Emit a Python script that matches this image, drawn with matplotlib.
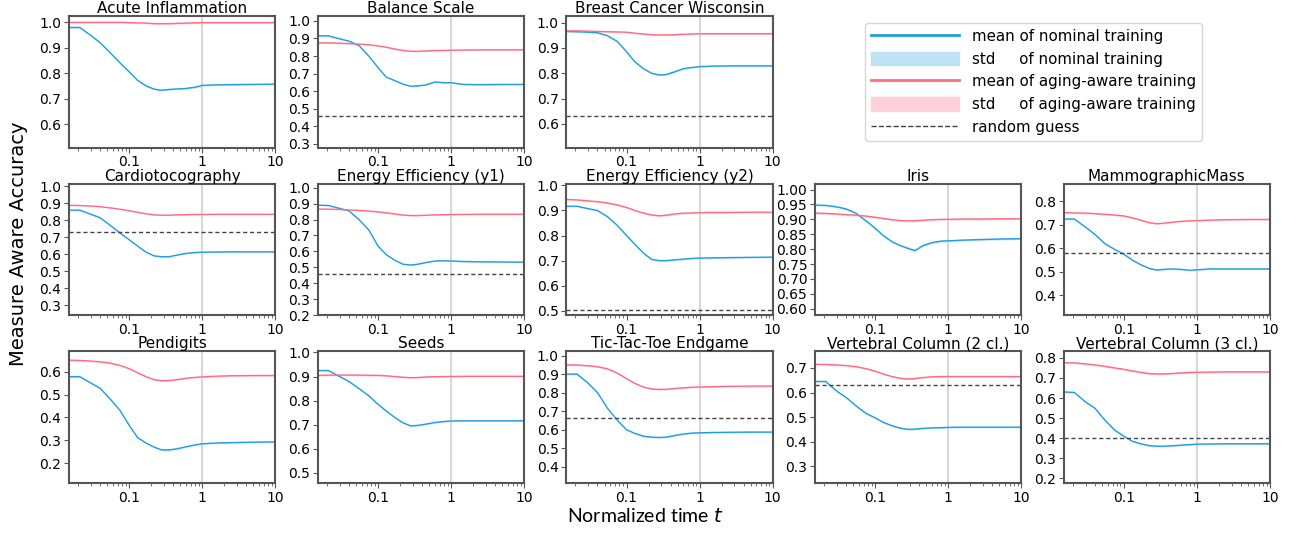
import numpy as np
import matplotlib
matplotlib.use("Agg")
import matplotlib.pyplot as plt
from matplotlib.ticker import FixedLocator, FormatStrFormatter, NullFormatter
from matplotlib.lines import Line2D
from matplotlib.patches import Patch

# normalized time grid (shared by all datasets)
T = [0.015, 0.021, 0.03, 0.04, 0.055, 0.075, 0.1, 0.13, 0.17, 0.22, 0.28, 0.35,
     0.45, 0.6, 0.8, 1.0, 1.5, 2.5, 5, 10]

names = ["Acute Inflammation", "Balance Scale", "Breast Cancer Wisconsin",
         "Cardiotocography", "Energy Efficiency (y1)", "Energy Efficiency (y2)",
         "Iris", "MammographicMass", "Pendigits", "Seeds",
         "Tic-Tac-Toe Endgame", "Vertebral Column (2 cl.)", "Vertebral Column (3 cl.)"]

nominal = [
    [0.98, 0.98, 0.948, 0.92, 0.88, 0.84, 0.805, 0.772, 0.75, 0.737, 0.733, 0.736, 0.738, 0.740, 0.745, 0.752, 0.754, 0.755, 0.756, 0.757],
    [0.915, 0.915, 0.898, 0.885, 0.86, 0.80, 0.735, 0.68, 0.66, 0.64, 0.628, 0.63, 0.635, 0.652, 0.648, 0.648, 0.638, 0.637, 0.638, 0.638],
    [0.965, 0.964, 0.962, 0.96, 0.948, 0.925, 0.885, 0.845, 0.818, 0.80, 0.793, 0.795, 0.805, 0.818, 0.823, 0.826, 0.828, 0.829, 0.829, 0.829],
    [0.86, 0.86, 0.835, 0.815, 0.77, 0.725, 0.685, 0.648, 0.612, 0.59, 0.585, 0.585, 0.595, 0.605, 0.61, 0.612, 0.613, 0.614, 0.614, 0.614],
    [0.89, 0.888, 0.87, 0.855, 0.80, 0.735, 0.635, 0.58, 0.545, 0.52, 0.515, 0.52, 0.53, 0.54, 0.542, 0.54, 0.537, 0.535, 0.534, 0.533],
    [0.917, 0.917, 0.907, 0.90, 0.875, 0.84, 0.80, 0.765, 0.73, 0.705, 0.70, 0.70, 0.703, 0.706, 0.709, 0.71, 0.711, 0.712, 0.713, 0.714],
    [0.948, 0.947, 0.942, 0.935, 0.92, 0.895, 0.87, 0.845, 0.825, 0.812, 0.803, 0.795, 0.812, 0.822, 0.827, 0.828, 0.83, 0.832, 0.834, 0.835],
    [0.725, 0.725, 0.69, 0.66, 0.62, 0.595, 0.575, 0.55, 0.53, 0.515, 0.507, 0.51, 0.512, 0.51, 0.506, 0.508, 0.512, 0.512, 0.512, 0.512],
    [0.578, 0.578, 0.55, 0.527, 0.48, 0.43, 0.365, 0.312, 0.288, 0.27, 0.258, 0.258, 0.263, 0.272, 0.28, 0.285, 0.288, 0.29, 0.292, 0.293],
    [0.925, 0.925, 0.90, 0.88, 0.85, 0.82, 0.785, 0.757, 0.73, 0.708, 0.695, 0.697, 0.702, 0.709, 0.713, 0.715, 0.716, 0.716, 0.716, 0.716],
    [0.90, 0.90, 0.85, 0.80, 0.715, 0.65, 0.60, 0.58, 0.565, 0.56, 0.558, 0.56, 0.568, 0.577, 0.582, 0.583, 0.585, 0.586, 0.587, 0.587],
    [0.645, 0.645, 0.605, 0.58, 0.545, 0.515, 0.497, 0.478, 0.465, 0.455, 0.45, 0.451, 0.454, 0.456, 0.457, 0.458, 0.459, 0.459, 0.459, 0.459],
    [0.63, 0.628, 0.58, 0.55, 0.49, 0.44, 0.41, 0.385, 0.372, 0.363, 0.36, 0.36, 0.362, 0.365, 0.368, 0.37, 0.371, 0.372, 0.372, 0.372],
]

aging = [
    [1.0, 1.0, 1.0, 1.0, 1.0, 1.0, 0.999, 0.998, 0.997, 0.995, 0.995, 0.995, 0.996, 0.997, 0.998, 0.999, 0.999, 0.999, 0.999, 0.999],
    [0.875, 0.875, 0.873, 0.871, 0.868, 0.864, 0.858, 0.85, 0.84, 0.832, 0.827, 0.827, 0.829, 0.831, 0.832, 0.833, 0.834, 0.835, 0.835, 0.835],
    [0.967, 0.967, 0.966, 0.965, 0.964, 0.963, 0.962, 0.958, 0.955, 0.952, 0.951, 0.951, 0.952, 0.954, 0.955, 0.956, 0.956, 0.956, 0.956, 0.956],
    [0.888, 0.887, 0.884, 0.88, 0.873, 0.865, 0.856, 0.847, 0.838, 0.832, 0.83, 0.83, 0.832, 0.833, 0.834, 0.834, 0.835, 0.835, 0.835, 0.835],
    [0.866, 0.865, 0.863, 0.86, 0.857, 0.853, 0.848, 0.842, 0.835, 0.828, 0.825, 0.825, 0.827, 0.829, 0.83, 0.831, 0.832, 0.833, 0.833, 0.833],
    [0.944, 0.942, 0.938, 0.935, 0.93, 0.922, 0.912, 0.90, 0.89, 0.882, 0.879, 0.881, 0.886, 0.889, 0.89, 0.891, 0.892, 0.892, 0.893, 0.893],
    [0.921, 0.92, 0.918, 0.916, 0.914, 0.911, 0.907, 0.903, 0.899, 0.896, 0.895, 0.895, 0.897, 0.899, 0.9, 0.9, 0.901, 0.901, 0.902, 0.902],
    [0.752, 0.751, 0.75, 0.748, 0.745, 0.742, 0.738, 0.73, 0.72, 0.71, 0.705, 0.707, 0.711, 0.715, 0.717, 0.718, 0.72, 0.722, 0.723, 0.723],
    [0.65, 0.649, 0.646, 0.643, 0.637, 0.627, 0.613, 0.595, 0.578, 0.565, 0.56, 0.561, 0.565, 0.571, 0.575, 0.577, 0.58, 0.582, 0.583, 0.583],
    [0.905, 0.906, 0.906, 0.906, 0.906, 0.905, 0.905, 0.903, 0.9, 0.897, 0.895, 0.896, 0.898, 0.899, 0.9, 0.9, 0.901, 0.901, 0.901, 0.901],
    [0.95, 0.949, 0.945, 0.94, 0.928, 0.905, 0.875, 0.85, 0.83, 0.82, 0.817, 0.818, 0.822, 0.826, 0.829, 0.83, 0.832, 0.834, 0.835, 0.835],
    [0.715, 0.714, 0.712, 0.71, 0.705, 0.697, 0.687, 0.675, 0.665, 0.658, 0.655, 0.657, 0.661, 0.664, 0.665, 0.665, 0.665, 0.665, 0.665, 0.665],
    [0.776, 0.775, 0.77, 0.765, 0.758, 0.75, 0.743, 0.735, 0.728, 0.722, 0.72, 0.72, 0.722, 0.725, 0.727, 0.728, 0.729, 0.73, 0.73, 0.73],
]

# std of the runs (small, roughly constant)
nominal_std = [0.003, 0.003, 0.003, 0.003, 0.003, 0.003, 0.003, 0.003, 0.003, 0.003, 0.004, 0.003, 0.004]
aging_std = [0.003, 0.003, 0.003, 0.002, 0.003, 0.003, 0.003, 0.003, 0.003, 0.003, 0.004, 0.003, 0.004]

random_guess = [0.5, 0.461, 0.631, 0.733, 0.46, 0.503, 0.333, 0.579, 0.104, 0.333, 0.662, 0.630, 0.403]

ylims = [(0.507, 1.025), (0.278, 1.028), (0.506, 1.026), (0.24, 1.016), (0.2, 1.025),
         (0.482, 1.007), (0.578, 1.02), (0.314, 0.876), (0.114, 0.689), (0.458, 1.005),
         (0.313, 1.023), (0.232, 0.768), (0.177, 0.833)]
yticks = [np.arange(0.6, 1.01, 0.1), np.arange(0.3, 1.01, 0.1), np.arange(0.6, 1.01, 0.1),
          np.arange(0.3, 1.01, 0.1), np.arange(0.2, 1.01, 0.1), np.arange(0.5, 1.01, 0.1),
          np.arange(0.6, 1.001, 0.05), np.arange(0.4, 0.81, 0.1), np.arange(0.2, 0.61, 0.1),
          np.arange(0.5, 1.01, 0.1), np.arange(0.4, 1.01, 0.1), np.arange(0.3, 0.71, 0.1),
          np.arange(0.2, 0.81, 0.1)]

# slot (row, col) of each panel; top row cols 3-4 hold the legend
slots = [(0, 0), (0, 1), (0, 2), (1, 0), (1, 1), (1, 2), (1, 3), (1, 4),
         (2, 0), (2, 1), (2, 2), (2, 3), (2, 4)]

BLUE = "#1f9fe2"
BLUE_L = "#bfe2f5"
RED = "#ff6b80"
RED_L = "#ffd1da"
SPINE = "#555555"

fig = plt.figure(figsize=(12.9, 5.33), dpi=100)
left, right, top, bottom = 0.0535, 0.9845, 0.970, 0.094
w = 0.16
gapx = (right - left - 5 * w) / 4
h = (top - bottom) / 3 - 0.045
gapy = 0.0675

t = np.array(T)
for i, name in enumerate(names):
    r, c = slots[i]
    x0 = left + c * (w + gapx)
    y0 = top - h - r * (h + gapy)
    ax = fig.add_axes([x0, y0, w, h])
    nom = np.array(nominal[i])
    age = np.array(aging[i])
    ax.axvline(1, color="#d0d0d0", lw=1.2, zorder=0)
    ax.fill_between(t, nom - nominal_std[i], nom + nominal_std[i], color=BLUE_L, lw=0)
    ax.fill_between(t, age - aging_std[i], age + aging_std[i], color=RED_L, lw=0)
    ax.plot(t, nom, color=BLUE, lw=1.0)
    ax.plot(t, age, color=RED, lw=1.0)
    ax.axhline(random_guess[i], color="#444444", ls="--", lw=1.0, dashes=(3, 2))
    ax.set_xscale("log")
    ax.set_xlim(T[0], 10)
    ax.set_ylim(*ylims[i])
    ax.xaxis.set_major_locator(FixedLocator([0.1, 1, 10]))
    ax.xaxis.set_major_formatter(FormatStrFormatter("%g"))
    ax.xaxis.set_minor_formatter(NullFormatter())
    ax.set_yticks(yticks[i])
    if name == "Iris":
        ax.yaxis.set_major_formatter(FormatStrFormatter("%.2f"))
    else:
        ax.yaxis.set_major_formatter(FormatStrFormatter("%.1f"))
    ax.tick_params(labelsize=10, color=SPINE, length=3.5, pad=2)
    ax.tick_params(which="minor", color=SPINE, length=2)
    for sp in ax.spines.values():
        sp.set_color(SPINE)
        sp.set_linewidth(1.5)
    ax.set_title(name, fontsize=11, pad=2)

# legend
handles = [Line2D([], [], color=BLUE, lw=2), Patch(color=BLUE_L),
           Line2D([], [], color=RED, lw=2), Patch(color=RED_L),
           Line2D([], [], color="#444444", ls="--", lw=1)]
labels = ["mean of nominal training", "std     of nominal training",
          "mean of aging-aware training", "std     of aging-aware training",
          "random guess"]
fig.legend(handles, labels, loc="upper left", bbox_to_anchor=(865 / 1290, 1 - 23 / 533),
           borderaxespad=0, fontsize=10.8, frameon=True, handlelength=5.9,
           handleheight=1.0, labelspacing=0.52, borderpad=0.38, handletextpad=0.85,
           edgecolor="#cccccc", fancybox=True)

fig.text(0.014, 0.542, "Measure Aware Accuracy", rotation=90, va="center", ha="center",
         fontsize=14)
fig.text(0.5, 0.032, "Normalized time $t$", ha="center", va="center", fontsize=14,
         family="Lato")

fig.savefig("out.png", dpi=100)
